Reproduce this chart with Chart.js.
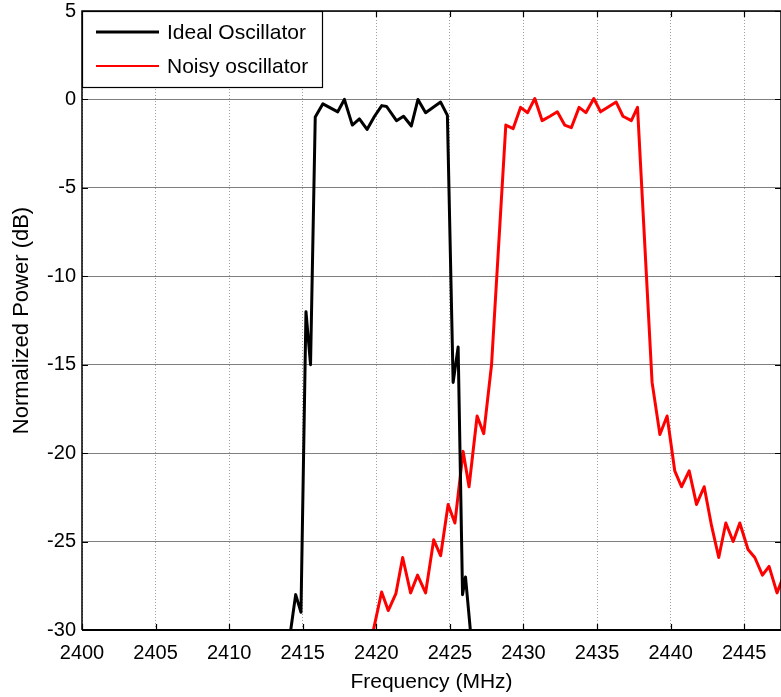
<!DOCTYPE html>
<html>
<head>
<meta charset="utf-8">
<script src="https://cdn.jsdelivr.net/npm/chart.js@4.4.1/dist/chart.umd.min.js"></script>
<style>
html,body{margin:0;padding:0;background:#fff;}
#wrap{width:781px;height:697px;}
</style>
</head>
<body>
<div id="wrap"><canvas id="c" width="781" height="697"></canvas></div>
<script>
// ---- data ----
const seriesNames = ['Ideal Oscillator', 'Noisy oscillator'];
const seriesColors = ['#000000', '#ff0000'];

const idealFreq = [2414.1, 2414.52, 2414.88, 2415.22, 2415.53, 2415.85, 2416.37, 2417.38, 2417.83,
  2418.37, 2418.85, 2419.37, 2419.88, 2420.37, 2420.7, 2421.37, 2421.85, 2422.38, 2422.83,
  2423.35, 2424.37, 2424.83, 2425.22, 2425.56, 2425.86, 2426.06, 2426.5];
const idealPower = [-30.5, -28, -29, -12, -15, -1, -0.25, -0.7, 0,
  -1.45, -1.1, -1.7, -0.95, -0.35, -0.4, -1.2, -0.95, -1.5, 0,
  -0.75, -0.15, -0.9, -16, -14, -28, -27, -31];

const noisyFreq = [2419.7, 2420.36, 2420.81, 2421.33, 2421.79, 2422.33, 2422.8, 2423.35, 2423.9,
  2424.37, 2424.88, 2425.34, 2425.9, 2426.3, 2426.85, 2427.3, 2427.83, 2428.8, 2429.3, 2429.8,
  2430.28, 2430.77, 2431.27, 2431.8, 2432.3, 2432.8, 2433.25, 2433.78, 2434.24, 2434.78, 2435.24,
  2436.3, 2436.76, 2437.33, 2437.75, 2438.74, 2439.27, 2439.76, 2440.28, 2440.74, 2441.26,
  2441.76, 2442.28, 2442.78, 2443.27, 2443.75, 2444.25, 2444.7, 2445.26, 2445.72, 2446.24,
  2446.69, 2447.23, 2447.7];
const noisyPower = [-30.4, -27.85, -28.9, -27.95, -25.9, -27.9, -26.9, -27.9, -24.9,
  -25.8, -22.9, -23.95, -19.9, -21.9, -17.9, -18.9, -15, -1.45, -1.65, -0.45,
  -0.75, 0.05, -1.2, -0.95, -0.7, -1.45, -1.6, -0.45, -0.75, 0.05, -0.7,
  -0.15, -0.95, -1.2, -0.45, -16, -18.95, -17.9, -21, -21.9, -21,
  -22.9, -21.9, -24.1, -25.9, -23.95, -25, -23.95, -25.45, -25.9, -26.9,
  -26.4, -27.9, -26.9];

const xRange = [2400, 2447.5];
const yRange = [-30, 5];
const tickStep = 5;
const xTitle = 'Frequency (MHz)';
const yTitle = 'Normalized Power (dB)';

// ---- chart ----
const FONT = "'Liberation Sans', Arial, Helvetica, sans-serif";

const toPts = (xs, ys) => xs.map((x, i) => ({x: x, y: ys[i]}));

const framePlugin = {
  id: 'frame',
  afterDatasetsDraw(chart) {
    const {ctx, chartArea: a, scales: {x, y}} = chart;
    ctx.save();
    ctx.strokeStyle = '#000';
    ctx.lineWidth = 1.5;
    ctx.beginPath();
    ctx.moveTo(a.left, a.bottom); ctx.lineTo(a.left, a.top); ctx.lineTo(a.right, a.top); ctx.lineTo(a.right, a.bottom);
    ctx.stroke();
    ctx.lineWidth = 2;
    ctx.beginPath(); ctx.moveTo(a.left, a.bottom); ctx.lineTo(a.right, a.bottom); ctx.stroke();
    ctx.lineWidth = 1.2;
    const L = 6;
    ctx.beginPath();
    x.ticks.forEach(t => {
      const p = Math.round(x.getPixelForValue(t.value)) + 0.5;
      ctx.moveTo(p, a.bottom); ctx.lineTo(p, a.bottom - L);
      ctx.moveTo(p, a.top); ctx.lineTo(p, a.top + L);
    });
    y.ticks.forEach(t => {
      const p = Math.round(y.getPixelForValue(t.value)) + 0.5;
      ctx.moveTo(a.left, p); ctx.lineTo(a.left + L, p);
      ctx.moveTo(a.right, p); ctx.lineTo(a.right - L, p);
    });
    ctx.stroke();
    ctx.restore();
  },
  afterDraw(chart) {
    const {ctx, chartArea: a} = chart;
    const bx = a.left, by = a.top, bw = 240, bh = 76;
    ctx.save();
    ctx.fillStyle = '#fff';
    ctx.fillRect(bx, by, bw, bh);
    ctx.strokeStyle = '#000';
    ctx.lineWidth = 1.2;
    ctx.strokeRect(bx + 0.5, by + 0.5, bw, bh);
    ctx.font = '21px ' + FONT;
    ctx.textBaseline = 'middle';
    ctx.textAlign = 'left';
    chart.data.datasets.forEach((ds, i) => {
      const yy = by + 21 + i * 34;
      ctx.strokeStyle = ds.borderColor;
      ctx.lineWidth = i === 0 ? 2.8 : 2.2;
      ctx.beginPath(); ctx.moveTo(bx + 14, yy); ctx.lineTo(bx + 77, yy); ctx.stroke();
      ctx.fillStyle = '#000';
      ctx.fillText(ds.label, bx + 85, yy + 1);
    });
    ctx.restore();
  }
};

new Chart(document.getElementById('c'), {
  type: 'line',
  data: {
    datasets: [
      {label: seriesNames[0], data: toPts(idealFreq, idealPower), borderColor: seriesColors[0], backgroundColor: seriesColors[0]},
      {label: seriesNames[1], data: toPts(noisyFreq, noisyPower), borderColor: seriesColors[1], backgroundColor: seriesColors[1]}
    ]
  },
  options: {
    responsive: false,
    animation: false,
    devicePixelRatio: 1,
    layout: {padding: {top: 11, right: 0, left: 0, bottom: 0}},
    elements: {
      line: {borderWidth: 3, tension: 0, borderJoinStyle: 'round', borderCapStyle: 'round'},
      point: {radius: 0, hoverRadius: 0}
    },
    plugins: {legend: {display: false}, tooltip: {enabled: false}},
    scales: {
      x: {
        type: 'linear', min: xRange[0], max: xRange[1],
        afterFit(s) { s.height = 67; s.paddingLeft = 0; s.paddingRight = 0; },
        ticks: {stepSize: tickStep, includeBounds: false, autoSkip: false, maxRotation: 0,
          color: '#000', padding: 11, font: {family: FONT, size: 20},
          callback: v => String(v)},
        grid: {color: 'rgba(0,0,0,0.38)', lineWidth: 1, drawTicks: false},
        border: {display: false, dash: [1, 2]},
        title: {display: true, text: xTitle, color: '#000', font: {family: FONT, size: 21}, padding: {top: 0, bottom: 2}}
      },
      y: {
        type: 'linear', min: yRange[0], max: yRange[1],
        afterFit(s) { s.width = 82; s.paddingTop = 0; s.paddingBottom = 0; },
        ticks: {stepSize: tickStep, color: '#000', padding: 6, font: {family: FONT, size: 20, lineHeight: 1},
          callback: v => String(v)},
        grid: {color: 'rgba(0,0,0,0.5)', lineWidth: 1, drawTicks: false},
        border: {display: false},
        title: {display: true, text: yTitle, color: '#000', font: {family: FONT, size: 22}, padding: {top: 9, bottom: 0}}
      }
    }
  },
  plugins: [framePlugin]
});
</script>
</body>
</html>
